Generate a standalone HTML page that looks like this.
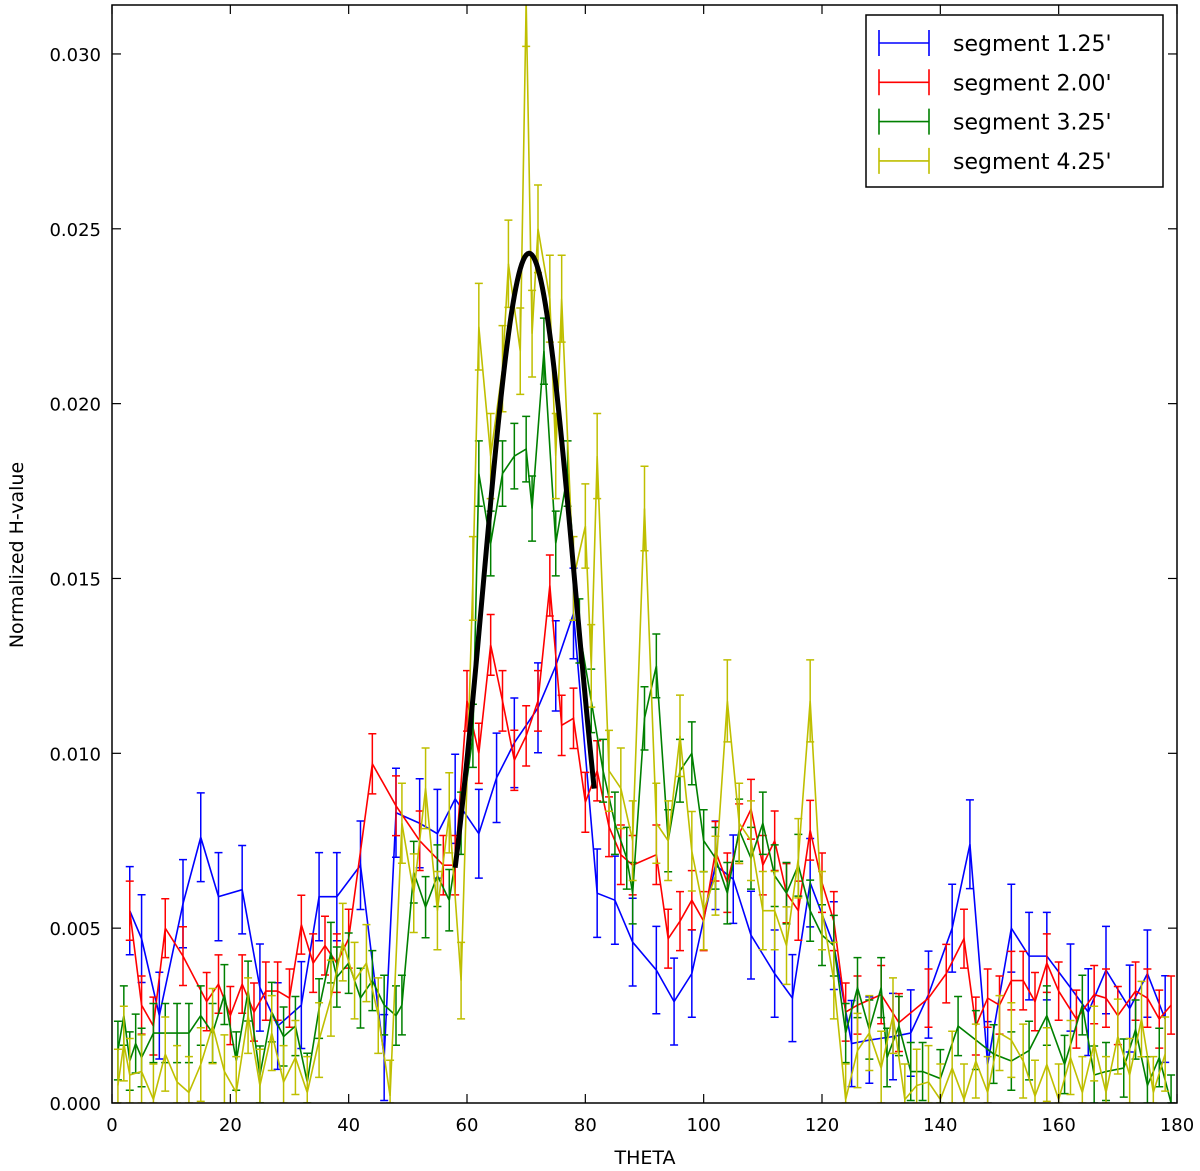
<!DOCTYPE html>
<html><head><meta charset="utf-8">
<style>
body{margin:0;background:#fff;}
svg{display:block;font-family:"DejaVu Sans","Liberation Sans",sans-serif;}
</style></head>
<body>
<svg id="chart" width="1200" height="1171" viewBox="0 0 1200 1171" xmlns="http://www.w3.org/2000/svg">
<g id="series"></g>
<g id="axes"></g>
<rect x="112" y="5" width="1065" height="1098" fill="none" stroke="#000" stroke-width="1.5"/>
<text x="645" y="1164" font-size="19" text-anchor="middle">THETA</text>
<text transform="translate(23,555) rotate(-90)" font-size="19" text-anchor="middle">Normalized H-value</text>
<g>
<rect x="866" y="15" width="297" height="172" fill="#fff" stroke="#000" stroke-width="1.5"/>
<g id="legend-items"></g>
</g>
</svg>
<script>
const xTicks=[0,20,40,60,80,100,120,140,160,180];
const yTicks=[0,0.005,0.010,0.015,0.020,0.025,0.030];
const yTickLabels=["0.000","0.005","0.010","0.015","0.020","0.025","0.030"];
const seriesNames=["segment 1.25'","segment 2.00'","segment 3.25'","segment 4.25'"];
const seriesColors=["#0000ff","#ff0000","#008000","#bfbf00"];
const blueX=[3,5,8,12,15,18,22,25,28,32,35,38,42,46,48,52,55,58,62,65,68,72,75,78,82,85,88,92,95,98,102,105,108,112,115,118,122,125,128,132,135,138,142,145,148,152,155,158,162,165,168,172,175,178];
const blueY=[0.0055,0.0047,0.0025,0.0057,0.0076,0.0059,0.0061,0.0033,0.0022,0.0028,0.0059,0.0059,0.0068,0.0013,0.0083,0.0080,0.0077,0.0087,0.0077,0.0093,0.0103,0.0113,0.0125,0.0140,0.0060,0.0058,0.0046,0.0038,0.0029,0.0037,0.0068,0.0064,0.0048,0.0037,0.0030,0.0063,0.0045,0.0017,0.0018,0.0019,0.0020,0.0031,0.0050,0.0074,0.0011,0.0050,0.0042,0.0042,0.0033,0.0026,0.0038,0.0027,0.0037,0.0024];
const redX=[3,5,7,9,12,16,18,20,22,24,26,28,30,32,34,36,38,40,44,48,52,56,58,60,62,64,66,68,70,72,74,76,78,80,82,84,86,88,92,94,96,98,100,102,104,106,108,110,112,114,116,118,120,122,124,126,130,133,138,141,144,146,148,150,152,154,156,158,160,163,166,168,170,173,175,177,179];
const redY=[0.0055,0.0028,0.0022,0.0050,0.0042,0.0029,0.0034,0.0025,0.0034,0.0026,0.0032,0.0032,0.0030,0.0051,0.0040,0.0045,0.0040,0.0047,0.0097,0.0085,0.0075,0.0068,0.0068,0.0115,0.0100,0.0131,0.0115,0.0098,0.0105,0.0115,0.0148,0.0108,0.0110,0.0086,0.0095,0.0079,0.0071,0.0068,0.0071,0.0047,0.0052,0.0058,0.0052,0.0072,0.0063,0.0077,0.0084,0.0068,0.0075,0.0060,0.0055,0.0078,0.0063,0.0052,0.0026,0.0028,0.0031,0.0023,0.0030,0.0037,0.0047,0.0022,0.0030,0.0028,0.0035,0.0035,0.0029,0.0040,0.0032,0.0024,0.0031,0.0030,0.0025,0.0032,0.0030,0.0024,0.0028];
const greenX=[1,2,3,4,5,7,9,11,13,15,17,19,21,23,25,27,29,31,33,35,37,38,40,42,44,46,48,49,51,53,55,57,59,61,62,64,66,68,70,71,73,75,77,79,81,83,85,87,88,90,92,94,96,98,100,102,104,106,108,110,112,114,116,118,120,122,124,126,128,130,131,133,135,137,140,143,146,149,152,155,158,161,164,166,168,171,173,175,177,179];
const greenY=[0.0015,0.0025,0.0012,0.0017,0.0013,0.0020,0.0020,0.0020,0.0020,0.0025,0.0020,0.0031,0.0012,0.0032,0.0008,0.0026,0.0019,0.0022,0.0006,0.0027,0.0043,0.0036,0.0040,0.0030,0.0035,0.0028,0.0025,0.0028,0.0066,0.0056,0.0065,0.0058,0.0080,0.0105,0.0180,0.0160,0.0180,0.0185,0.0187,0.0170,0.0215,0.0160,0.0180,0.0135,0.0115,0.0095,0.0080,0.0070,0.0060,0.0110,0.0125,0.0075,0.0095,0.0100,0.0075,0.0070,0.0060,0.0078,0.0070,0.0080,0.0065,0.0060,0.0068,0.0055,0.0048,0.0045,0.0020,0.0033,0.0021,0.0033,0.0013,0.0022,0.0009,0.0009,0.0007,0.0022,0.0018,0.0014,0.0012,0.0015,0.0025,0.0011,0.0028,0.0008,0.0009,0.0010,0.0021,0.0005,0.0013,0.0000];
const yellowX=[1,2,3,5,7,9,11,13,15,17,19,21,23,25,27,29,31,33,35,37,39,41,43,45,47,49,51,53,55,57,59,61,62,64,66,67,69,70,71,72,74,75,76,78,80,81,82,84,86,88,90,92,94,96,98,100,102,104,106,108,110,112,114,116,118,120,122,124,126,128,130,132,134,136,138,140,142,144,146,148,150,152,154,156,158,160,162,164,166,168,170,172,174,176,178];
const yellowY=[0.0005,0.0017,0.0008,0.0009,0.0001,0.0014,0.0006,0.0003,0.0011,0.0022,0.0009,0.0003,0.0025,0.0005,0.0020,0.0006,0.0013,0.0003,0.0018,0.0030,0.0046,0.0035,0.0040,0.0025,0.0002,0.0080,0.0060,0.0090,0.0055,0.0083,0.0035,0.0150,0.0222,0.0185,0.0210,0.0240,0.0215,0.0315,0.0220,0.0250,0.0230,0.0185,0.0230,0.0150,0.0165,0.0125,0.0185,0.0095,0.0090,0.0075,0.0170,0.0080,0.0075,0.0105,0.0072,0.0055,0.0065,0.0115,0.0080,0.0075,0.0055,0.0055,0.0045,0.0070,0.0115,0.0055,0.0035,0.0001,0.0015,0.0020,0.0010,0.0025,0.0001,0.0005,0.0006,0.0001,0.0010,0.0001,0.0012,0.0003,0.0020,0.0018,0.0012,0.0002,0.0011,0.0001,0.0013,0.0003,0.0017,0.0003,0.0019,0.0008,0.0024,0.0003,0.0014];
const errBase=[0.0012,0.0008,0.0008,0.0010];
const errScale=[0.008,0.006,0.010,0.016];
const fitParams=[0.0243,70.5,7.8];
const fitRange=[58,81.5];

const X0=112,X1=1177,Y0=1103,Y1=5,XMIN=0,XMAX=180,YMIN=0,YMAX=0.0314;
const sx=v=>X0+(v-XMIN)/(XMAX-XMIN)*(X1-X0);
const sy=v=>Y0-(v-YMIN)/(YMAX-YMIN)*(Y0-Y1);
const NS="http://www.w3.org/2000/svg";
function mk(tag,attrs,parent){const e=document.createElementNS(NS,tag);for(const k in attrs)e.setAttribute(k,attrs[k]);parent.appendChild(e);return e;}
const axes=document.getElementById('axes');
xTicks.forEach(t=>{
  const g=mk('g',{},axes);
  
  
  mk('line',{x1:sx(t),x2:sx(t),y1:Y0,y2:Y0-9,stroke:'#000','stroke-width':1.2},g);
  mk('line',{x1:sx(t),x2:sx(t),y1:Y1,y2:Y1+9,stroke:'#000','stroke-width':1.2},g);
  const tx=mk('text',{x:sx(t),y:1131,'font-size':18,'text-anchor':'middle'},g);tx.textContent=t;
});
yTicks.forEach((t,i)=>{
  const g=mk('g',{},axes);
  
  
  mk('line',{x1:X0,x2:X0+9,y1:sy(t),y2:sy(t),stroke:'#000','stroke-width':1.2},g);
  mk('line',{x1:X1,x2:X1-9,y1:sy(t),y2:sy(t),stroke:'#000','stroke-width':1.2},g);
  const tx=mk('text',{x:101,y:sy(t)+7,'font-size':18,'text-anchor':'end'},g);tx.textContent=yTickLabels[i];
});
const layer=document.getElementById('series');
const data=[[blueX,blueY],[redX,redY],[greenX,greenY],[yellowX,yellowY]];
const clip=mk('clipPath',{id:'pc'},layer);mk('rect',{x:X0,y:Y1,width:X1-X0,height:Y0-Y1},clip);
const names=['blue','red','green','yellow'];
data.forEach(([xs,ys],si)=>{
  const g=mk('g',{'clip-path':'url(#pc)'},layer);
  
  
  const c=seriesColors[si];
  xs.forEach((x,i)=>{
    const e=errBase[si]+errScale[si]*Math.sqrt(ys[i])*0.1;
    const px=sx(x),top=sy(ys[i]+e),bot=sy(Math.max(0,ys[i]-e));
    const b=mk('path',{d:`M${px},${top}V${bot}M${px-4},${top}H${px+4}M${px-4},${bot}H${px+4}`,stroke:c,'stroke-width':1.5,fill:'none'},g);
    
    
  });
  const ln=mk('polyline',{points:xs.map((x,i)=>sx(x)+','+sy(ys[i])).join(' '),stroke:c,'stroke-width':1.6,fill:'none'},g);
  
  
});
const pts=[];
for(let x=fitRange[0];x<=fitRange[1]+1e-9;x+=0.25){pts.push(sx(x)+','+sy(fitParams[0]*Math.exp(-Math.pow(x-fitParams[1],2)/(2*fitParams[2]*fitParams[2]))));}
const fit=mk('polyline',{points:pts.join(' '),stroke:'#000','stroke-width':5,fill:'none'},layer);


const li=document.getElementById('legend-items');
seriesNames.forEach((n,i)=>{
  const y=43+i*39.3;
  const g=mk('g',{},li);
  
  
  mk('path',{d:`M879,${y}H929M879,${y-13}V${y+13}M929,${y-13}V${y+13}`,stroke:seriesColors[i],'stroke-width':1.6,fill:'none'},g);
  const t=mk('text',{x:953,y:y+8,'font-size':22},g);t.textContent=n;
});
</script>
</body></html>
